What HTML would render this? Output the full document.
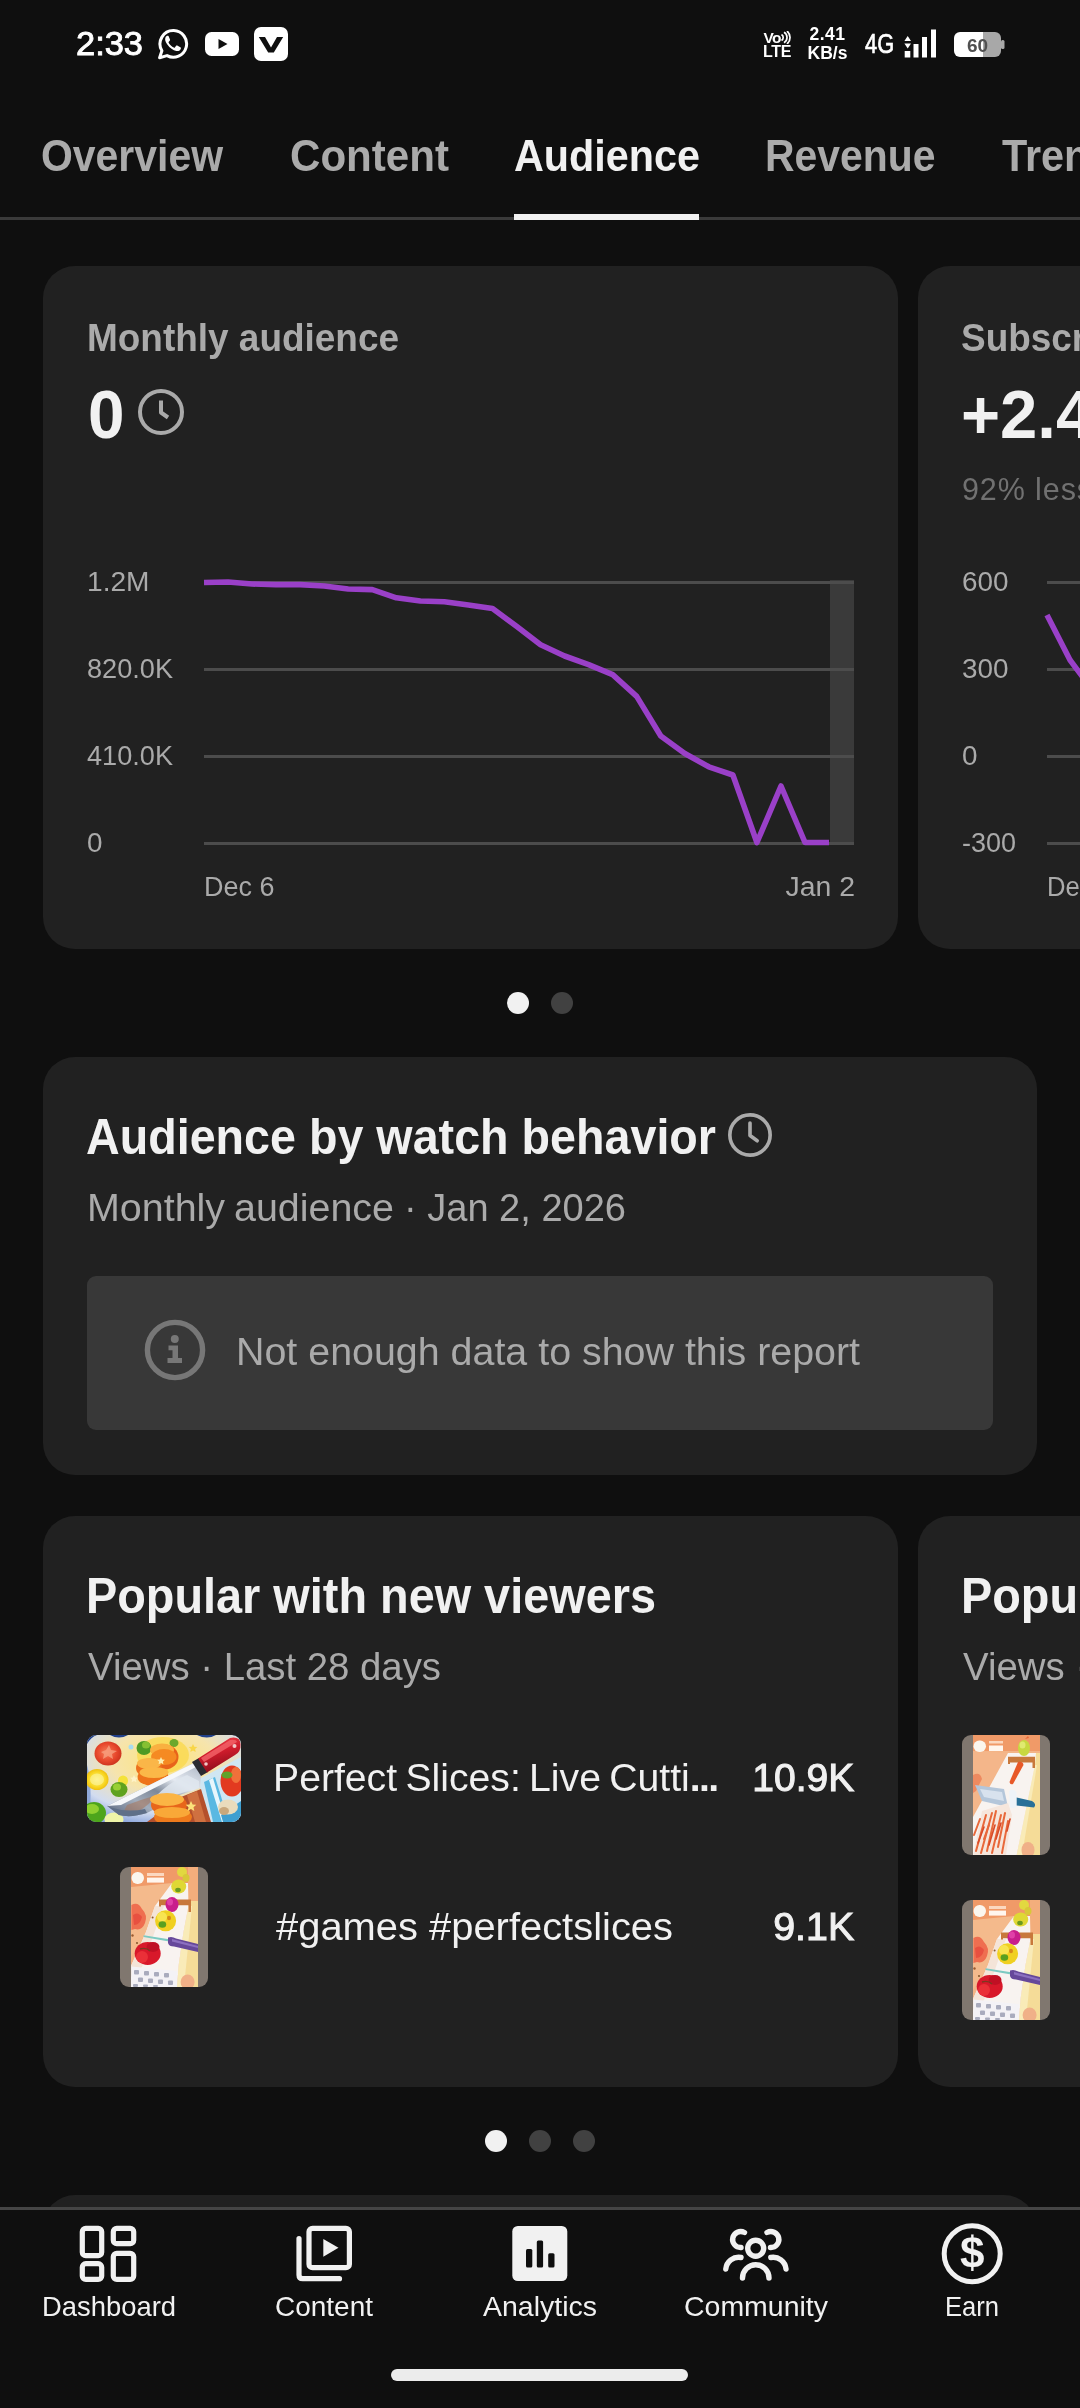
<!DOCTYPE html>
<html>
<head>
<meta charset="utf-8">
<title>Channel analytics</title>
<style>
*{margin:0;padding:0;box-sizing:border-box}
html,body{width:1080px;height:2408px;background:#0f0f0f;overflow:hidden}
body{font-family:"Liberation Sans",sans-serif;color:#fff;position:relative}
.abs{position:absolute;white-space:nowrap;line-height:1}
.card{position:absolute;background:#212121;border-radius:32px}
.tab{position:absolute;top:133.600px;font-size:44.500px;font-weight:bold;color:#aaa;white-space:nowrap;line-height:44px;transform-origin:0 50%}
.g{color:#aaa}
.axis{position:absolute;font-size:27px;color:#aaa;line-height:1;white-space:nowrap;transform-origin:0 50%}
.grid{position:absolute;height:2.500px;background:#4c4c4c}
.navl{position:absolute;top:2292px;font-size:27px;color:#fff;line-height:30px;white-space:nowrap;text-align:center;transform:translateX(-50%)}
</style>
</head>
<body>
<div id="root" style="position:absolute;left:0;top:0;width:1080px;height:2408px;overflow:hidden;will-change:transform">
<!-- STATUS BAR -->
<div id="sb">
<div class="abs" id="time" style="transform:scaleX(1.0123);transform-origin:left center;left:76.300px;top:26px;font-size:34px;line-height:34px;color:#fff;-webkit-text-stroke:0.900px #fff">2:33</div>
<!-- whatsapp -->
<svg class="abs" style="left:157px;top:28px" width="33" height="33" viewBox="0 0 33 33">
<path d="M16.8 2.6 A13.3 13.3 0 1 1 10 27.6 L2.6 29.8 L4.9 22.7 A13.3 13.3 0 0 1 16.8 2.6 Z" fill="none" stroke="#fff" stroke-width="3" stroke-linejoin="round"/>
<path transform="translate(16.3 15.9) scale(1.22) translate(-16.3 -15.9)" d="M11.6 9.2c-.5 0-1.4.5-1.8 1.600-.5 1.400-.1 3.300 1.600 5.600 2.100 2.900 4.700 4.700 7.400 5.300 1.500.3 2.900-.4 3.500-1.500.3-.6.300-1.200.1-1.400l-2.900-1.500c-.4-.2-.7-.1-.9.200l-1 1.300c-.2.300-.5.300-.9.100-1.700-.7-3.300-2.200-4.200-3.900-.2-.3-.1-.6.100-.8l.9-1.100c.2-.3.200-.6.100-.9l-1.200-2.700c-.2-.3-.4-.3-.8-.3z" fill="#fff"/>
</svg>
<!-- youtube -->
<svg class="abs" style="left:205px;top:32px" width="34" height="24" viewBox="0 0 34 24">
<rect x="0" y="0" width="34" height="24" rx="6.5" fill="#fff"/>
<path d="M13.5 7 L22.5 12 L13.5 17 Z" fill="#0f0f0f"/>
</svg>
<!-- V -->
<svg class="abs" style="left:254px;top:27px" width="34" height="34" viewBox="0 0 34 34">
<rect x="0" y="0" width="34" height="34" rx="7" fill="#fff"/>
<path d="M4.800 10 H11 L17 20.500 L23 10 H29.200 L19.800 25.500 H14.200 Z" fill="#0f0f0f"/>
</svg>
<!-- VoLTE -->
<div class="abs" style="left:763.500px;top:31px;font-size:15.500px;font-weight:bold;line-height:13px;color:#fff;letter-spacing:-0.800px">Vo</div>
<svg class="abs" style="left:780px;top:31px" width="12" height="13" viewBox="0 0 12 13"><path d="M1.5 3.500 A3.500 3.500 0 0 1 1.500 9.500 M4 1.300 A6 6 0 0 1 4 11.700 M7 0 A8.500 8.500 0 0 1 7 13" fill="none" stroke="#fff" stroke-width="1.700"/></svg>
<div class="abs" style="left:763px;top:45px;font-size:16px;font-weight:bold;line-height:13px;color:#fff;letter-spacing:-0.3px">LTE</div>
<!-- speed -->
<div class="abs" id="spd1" style="left:807px;top:26px;font-size:17.500px;font-weight:bold;line-height:16px;color:#fff;width:41px;text-align:center;letter-spacing:0.5px">2.41</div>
<div class="abs" id="spd2" style="left:806px;top:45px;font-size:17.500px;font-weight:bold;line-height:16px;color:#fff;width:43px;text-align:center">KB/s</div>
<!-- 4G -->
<div class="abs" id="fourg" style="left:865px;top:30px;font-size:28px;line-height:28px;color:#fff;-webkit-text-stroke:0.700px #fff;transform:scaleX(0.78);transform-origin:0 0">4G</div>
<!-- signal -->
<svg class="abs" style="left:904px;top:29px" width="33" height="29" viewBox="0 0 33 29">
<path d="M3.700 7 L7 12 H0.400 Z M0.400 14.500 H7 L3.700 19.500 Z" fill="#fff"/>
<rect x="0.700" y="22" width="5.600" height="6.500" fill="#fff"/>
<rect x="9.500" y="15" width="5" height="13.500" fill="#fff"/>
<rect x="18" y="8" width="5" height="20.500" fill="#fff"/>
<rect x="27" y="0.500" width="5" height="28" fill="#fff"/>
</svg>
<!-- battery -->
<svg class="abs" style="left:954px;top:32px" width="51" height="26" viewBox="0 0 51 26">
<defs><clipPath id="bc"><rect x="0" y="0" width="47" height="25" rx="6"/></clipPath></defs>
<g clip-path="url(#bc)"><rect x="0" y="0" width="29" height="25" fill="#fff"/><rect x="29" y="0" width="18" height="25" fill="#a8a8a8"/></g>
<rect x="47" y="8" width="3.500" height="9" rx="1.500" fill="#a8a8a8"/>
<text x="23.500" y="19.500" font-family="Liberation Sans" font-weight="bold" font-size="19" fill="#505050" text-anchor="middle">60</text>
</svg>
</div>
<!-- TABS -->
<div id="tabs">
<div class="tab" id="t1" style="transform:scaleX(0.9196);transform-origin:left center;left:40.5px">Overview</div>
<div class="tab" id="t2" style="transform:scaleX(0.9460);transform-origin:left center;left:289.5px">Content</div>
<div class="tab" id="t3" style="transform:scaleX(0.9286);transform-origin:left center;left:514px;color:#f1f1f1">Audience</div>
<div class="tab" id="t4" style="transform:scaleX(0.9191);transform-origin:left center;left:764.500px">Revenue</div>
<div class="tab" id="t5" style="left:1001.500px;transform:scaleX(0.93);transform-origin:left center">Trends</div>
<div class="abs" style="left:0;top:217px;width:1080px;height:3px;background:#3a3a3a"></div>
<div class="abs" style="left:514px;top:214px;width:185px;height:6px;background:#f1f1f1"></div>
</div>
<!-- CARDS -->
<div id="c1">
<div class="card" style="left:43px;top:266px;width:855px;height:683px"></div>
<div class="abs g" id="ma" style="transform:scaleX(0.9353);transform-origin:left center;left:87px;top:316.500px;font-size:39.500px;font-weight:bold;line-height:40px">Monthly audience</div>
<div class="abs" id="zero" style="transform:scaleX(0.9649);transform-origin:left center;left:87.500px;top:381.300px;font-size:68px;font-weight:bold;line-height:66px;color:#f1f1f1">0</div>
<svg class="abs" style="left:136px;top:387px" width="50" height="50" viewBox="0 0 50 50"><circle cx="25" cy="25" r="21" fill="none" stroke="#aaa" stroke-width="4"/><path d="M25 13.500 V25.500 L32 30.500" fill="none" stroke="#aaa" stroke-width="4" stroke-linecap="butt" stroke-linejoin="round"/></svg>
<div class="abs" style="left:830px;top:580px;width:24px;height:264px;background:#3a3a3a"></div>
<div class="grid" style="left:204px;top:581px;width:650px"></div>
<div class="grid" style="left:204px;top:668px;width:650px"></div>
<div class="grid" style="left:204px;top:755px;width:650px"></div>
<div class="grid" style="left:204px;top:842px;width:650px"></div>
<div class="axis" id="a1" style="transform:scaleX(1.0411);transform-origin:left center;left:87px;top:569px">1.2M</div>
<div class="axis" id="a2" style="transform:scaleX(1.0049);transform-origin:left center;left:87px;top:656px">820.0K</div>
<div class="axis" id="a3" style="transform:scaleX(1.0049);transform-origin:left center;left:87px;top:743px">410.0K</div>
<div class="axis" id="a4" style="transform:scaleX(1.0312);transform-origin:left center;left:87px;top:830px">0</div>
<div class="axis" id="a5" style="transform:scaleX(0.9993);transform-origin:left center;left:203.5px;top:873.5px">Dec 6</div>
<div class="axis" id="a6" style="transform:scaleX(1.0520);transform-origin:right center;right:224.5px;top:873.5px">Jan 2</div>
<svg class="abs" style="left:0;top:560px" width="1080" height="300" viewBox="0 560 1080 300"><polyline points="204.0,582.5 228.0,582.0 252.1,584.0 276.1,584.6 300.2,584.6 324.2,586.0 348.2,589.0 372.3,589.6 396.3,597.8 420.4,601.0 444.4,601.8 468.4,605.0 492.5,608.4 516.5,626.3 540.6,644.8 564.6,656.0 588.6,664.6 612.7,674.7 636.7,696.4 660.8,736.0 684.8,753.5 708.8,766.8 732.9,775.0 756.9,842.5 781.0,786.0 805.0,842.5 829.0,842.5" fill="none" stroke="#9a40c8" stroke-width="5.600" stroke-linejoin="round" stroke-linecap="butt"/></svg>
</div>
<div id="c2">
<div class="card" style="left:918px;top:266px;width:400px;height:683px"></div>
<div class="abs g" id="sub" style="left:961px;top:316.500px;font-size:39.500px;font-weight:bold;line-height:40px;transform:scaleX(0.9353);transform-origin:left center">Subscribers</div>
<div class="abs" id="p24" style="left:961px;top:381.300px;font-size:68px;font-weight:bold;line-height:66px;color:#f1f1f1;transform:scaleX(0.985);transform-origin:left center">+2.4K</div>
<div class="abs" id="less" style="left:962px;top:472px;font-size:30.500px;line-height:34px;color:#717171;letter-spacing:0.900px">92% less than previous 28 days</div>
<div class="grid" style="left:1047px;top:581px;width:40px"></div>
<div class="grid" style="left:1047px;top:668px;width:40px"></div>
<div class="grid" style="left:1047px;top:755px;width:40px"></div>
<div class="grid" style="left:1047px;top:842px;width:40px"></div>
<div class="axis" id="b1" style="transform:scaleX(1.0319);transform-origin:left center;left:962px;top:569px">600</div>
<div class="axis" id="b2" style="transform:scaleX(1.0319);transform-origin:left center;left:962px;top:656px">300</div>
<div class="axis" id="b3" style="transform:scaleX(1.0312);transform-origin:left center;left:962px;top:743px">0</div>
<div class="axis" id="b4" style="transform:scaleX(0.9991);transform-origin:left center;left:962px;top:830px">-300</div>
<div class="axis" id="b5" style="left:1047px;top:873.5px;transform:scaleX(0.95);transform-origin:left center">Dec 6</div>
<svg class="abs" style="left:1040px;top:560px" width="40" height="300" viewBox="1040 560 40 300"><polyline points="1047,615 1070,660 1085,680" fill="none" stroke="#9a40c8" stroke-width="5.600" stroke-linejoin="round"/></svg>
</div>
<div id="c3">
<div class="abs" style="left:507px;top:992px;width:22px;height:22px;border-radius:50%;background:#f1f1f1"></div>
<div class="abs" style="left:551px;top:992px;width:22px;height:22px;border-radius:50%;background:#414141"></div>
<div class="card" style="left:43px;top:1057px;width:993.500px;height:417.500px"></div>
<div class="abs" id="t3a" style="transform:scaleX(0.9331);transform-origin:left center;left:86px;top:1111.300px;font-size:50px;font-weight:bold;line-height:52px;color:#f1f1f1">Audience by watch behavior</div>
<svg class="abs" style="left:726px;top:1110.500px" width="48" height="48" viewBox="0 0 50 50"><circle cx="25" cy="25" r="21" fill="none" stroke="#aaa" stroke-width="3.800"/><path d="M25 12.500 V25.500 L32.500 31" fill="none" stroke="#aaa" stroke-width="3.800" stroke-linecap="round" stroke-linejoin="round"/></svg>
<div class="abs g" id="t3b" style="transform:scaleX(1.0377);transform-origin:left center;left:87px;top:1187px;font-size:38px;line-height:42px;word-spacing:-2px">Monthly audience</div>
<div class="abs g" id="t3b2" style="transform:scaleX(1.0008);transform-origin:left center;left:404px;top:1187px;font-size:38px;line-height:42px">· Jan 2, 2026</div>
<div class="abs" style="left:87px;top:1276px;width:906px;height:154px;border-radius:9px;background:#383838"></div>
<svg class="abs" style="left:143px;top:1318px" width="64" height="64" viewBox="0 0 64 64"><circle cx="32" cy="32" r="27.600" fill="none" stroke="#777" stroke-width="5.400"/><circle cx="31.800" cy="21" r="4" fill="#777"/><path d="M25.500 27.500 H35 V40 H39 V45 H24.500 V40 H29.500 V32.200 H25.500 Z" fill="#777"/></svg>
<div class="abs g" id="t3c" style="transform:scaleX(1.0365);transform-origin:left center;left:236px;top:1331px;font-size:38px;line-height:42px">Not enough data to show this report</div>
</div>
<div id="c4">
<div class="card" style="left:43px;top:1516px;width:855px;height:570.500px"></div>
<div class="abs" id="t4a" style="transform:scaleX(0.9367);transform-origin:left center;left:86px;top:1570px;font-size:50px;font-weight:bold;line-height:52px;color:#f1f1f1">Popular with new viewers</div>
<div class="abs g" id="t4b" style="transform:scaleX(1.0088);transform-origin:left center;left:88px;top:1645.500px;font-size:38px;line-height:42px">Views · Last 28 days</div>
<svg class="abs" style="left:87px;top:1735px;border-radius:9px" width="154" height="87" viewBox="0 0 154 87">
<defs>
<radialGradient id="g1bg" cx="0.5" cy="0.3" r="0.75"><stop offset="0" stop-color="#fde47c"/><stop offset="0.45" stop-color="#f6e4ac"/><stop offset="0.8" stop-color="#d2dcf0"/><stop offset="1" stop-color="#8aa4dc"/></radialGradient>
<linearGradient id="g1bl" x1="0" y1="1" x2="1" y2="0"><stop offset="0" stop-color="#56627a"/><stop offset="0.3" stop-color="#a3aebd"/><stop offset="0.5" stop-color="#7d8899"/><stop offset="0.7" stop-color="#e6ebf2"/><stop offset="1" stop-color="#aab3c2"/></linearGradient>
<linearGradient id="g1h" x1="0" y1="0" x2="0.3" y2="1"><stop offset="0" stop-color="#f04a50"/><stop offset="0.5" stop-color="#d01c2c"/><stop offset="1" stop-color="#8e0e1c"/></linearGradient>
<radialGradient id="g1t" cx="0.45" cy="0.45" r="0.6"><stop offset="0" stop-color="#f4805a"/><stop offset="0.6" stop-color="#e8482c"/><stop offset="1" stop-color="#c8301c"/></radialGradient>
<radialGradient id="g1l" cx="0.5" cy="0.5" r="0.5"><stop offset="0" stop-color="#fdf08a"/><stop offset="0.7" stop-color="#f9d926"/><stop offset="1" stop-color="#f0c010"/></radialGradient>
<linearGradient id="g1c" x1="0" y1="0" x2="0" y2="1"><stop offset="0" stop-color="#fbc050"/><stop offset="0.5" stop-color="#f58a22"/><stop offset="1" stop-color="#e45c10"/></linearGradient>
</defs>
<rect width="154" height="87" fill="url(#g1bg)"/>
<path d="M0 0 H10 Q4 2 0 9 Z M23 0 H41 Q32 5 23 0 Z M110 0 H129 Q120 5 110 0 Z M146 0 H154 V5 Q152 1 146 0 Z" fill="#1f3f8a"/>
<path d="M0 30 Q6 50 2 87 H0 Z" fill="#8fa8d8"/>
<!-- right side teal board -->
<path d="M112 44 L154 22 V87 H118 Z" fill="#cfe6f2"/>
<path d="M117 47 L128 42 L142 87 H126 Z" fill="#5ab8e2"/>
<path d="M122 45 L126 43 L139 87 H135 Z" fill="#e8f6fc"/>
<path d="M134 80 L154 66 V87 H136 Z" fill="#3f9fd0"/>
<!-- wood board bottom center -->
<path d="M94 62 L114 54 L124 87 H60 Z" fill="#b4502c"/>
<path d="M100 60 L110 56 L119 87 H108 Z" fill="#cf7040"/>
<!-- yellow glow behind carrots -->
<ellipse cx="76" cy="20" rx="26" ry="18" fill="#f9d84a" opacity="0.75"/>
<!-- tomato -->
<ellipse cx="21" cy="18.500" rx="13.500" ry="12" fill="url(#g1t)"/>
<path d="M14 17 l5 -2 3 -5 2 5 6 1 -5 3 1 5 -5 -3 -5 3 1 -5z" fill="#f7a080" opacity="0.8"/>
<!-- lemon -->
<ellipse cx="10" cy="44.500" rx="11.500" ry="10.500" fill="url(#g1l)"/>
<ellipse cx="10" cy="44.500" rx="7" ry="6" fill="#fdf6a0" opacity="0.6"/>
<!-- cucumber bottom-left -->
<ellipse cx="7" cy="78" rx="12" ry="11" fill="#4da51c"/>
<ellipse cx="5" cy="74" rx="7" ry="5" fill="#8fd030"/>
<ellipse cx="27" cy="84.500" rx="9.500" ry="7" fill="#eef4a8"/>
<!-- broccoli -->
<ellipse cx="57" cy="13" rx="7.500" ry="7" fill="#4f9a24"/><ellipse cx="59" cy="10" rx="4" ry="3.500" fill="#86c032"/>
<ellipse cx="87" cy="8" rx="4.500" ry="4" fill="#6aa82c"/>
<ellipse cx="36" cy="46" rx="5" ry="5.500" fill="#f4e23a"/>
<ellipse cx="32" cy="54.500" rx="8.500" ry="7.500" fill="#5fa21e"/><ellipse cx="30" cy="52" rx="4" ry="3.500" fill="#98cf34"/>
<!-- top carrots -->
<ellipse cx="78" cy="22" rx="13.500" ry="12.500" fill="#e8641a"/>
<ellipse cx="75" cy="15" rx="12" ry="6.500" fill="#f9b040"/>
<ellipse cx="77" cy="22" rx="12.500" ry="8" fill="#f58a22"/>
<ellipse cx="62" cy="33" rx="13" ry="9.500" fill="#ec701c"/>
<ellipse cx="62" cy="28.500" rx="12" ry="5.500" fill="#fab648"/>
<ellipse cx="66" cy="42" rx="15.500" ry="9" fill="#ee741a"/>
<ellipse cx="67" cy="37.500" rx="14.500" ry="5.500" fill="#fbb848"/>
<!-- knife blade -->
<path d="M20 71 L107 28 L114 40 L113 53 Q100 58 86 62 Q72 72 60 78 Q44 83 32 80 Z" fill="url(#g1bl)"/>
<path d="M20 71 L107 28 L109 32 L34 70 Z" fill="#f6f8fb"/>
<path d="M70 60 Q84 46 100 40 L112 46 L112 53 Q96 57 84 62 Z" fill="#dfe6ee" opacity="0.85"/>
<path d="M40 70 Q56 64 70 60 Q62 70 52 76 Q44 80 36 78 Z" fill="#a8745a" opacity="0.55"/>
<path d="M22 72 Q40 78 58 74 L60 78 Q44 83 32 80 Z" fill="#5f6f88"/>
<!-- bolster + handle -->
<path d="M105 27 L112 23 L121 37 L114 41 Z" fill="#2a2a30"/>
<path d="M111 23.500 L143 3 Q153 1 153.500 9 Q154 17 148 20 L120 37.500 Z" fill="url(#g1h)"/>
<path d="M114 23 L143 5 Q149 4 150 7 L117 27 Z" fill="#f4646a" opacity="0.8"/>
<circle cx="147.500" cy="11" r="2" fill="#f0c8c8"/><circle cx="119" cy="29" r="1.800" fill="#f0c8c8"/>
<!-- bottom carrots -->
<ellipse cx="82" cy="70" rx="18" ry="11" fill="#e8661a"/>
<ellipse cx="80" cy="64.500" rx="17" ry="6.500" fill="#fbb444"/>
<ellipse cx="86" cy="82" rx="19" ry="9" fill="#ee7a1c"/>
<ellipse cx="85" cy="77.500" rx="18" ry="5.500" fill="#f9a838"/>
<!-- red pepper -->
<ellipse cx="145" cy="46" rx="11.500" ry="15.500" fill="#e23a20"/>
<ellipse cx="149" cy="40" rx="5" ry="8" fill="#f0703a"/>
<ellipse cx="140" cy="40" rx="5.500" ry="3.500" fill="#5fa22a"/>
<!-- mushroom -->
<ellipse cx="141" cy="72" rx="10" ry="7.500" fill="#eadcbc"/><ellipse cx="137" cy="76" rx="5" ry="4" fill="#c9a87c"/>
<!-- stars -->
<path d="M104 66 l1.600 3.400 3.700 .4 -2.800 2.500 .8 3.700 -3.300 -1.900 -3.300 1.900 .8 -3.700 -2.800 -2.500 3.700 -.4z" fill="#fbe27a"/>
<path d="M106 9 l1.300 2.700 3 .3 -2.200 2 .6 3 -2.700 -1.500 -2.700 1.500 .6 -3 -2.200 -2 3 -.3z" fill="#f8d648"/>
<path d="M74 22 l1.200 2.500 2.700 .3 -2 1.800 .5 2.700 -2.400 -1.400 -2.400 1.400 .5 -2.700 -2 -1.800 2.700 -.3z" fill="#fdeeb0"/>
<path d="M47 40 l1.200 2.500 2.700 .3 -2 1.800 .5 2.700 -2.400 -1.400 -2.400 1.400 .5 -2.700 -2 -1.800 2.700 -.3z" fill="#fdf2c8"/>
<circle cx="44" cy="12" r="2.500" fill="#a8dcf0"/>
</svg>
<div class="abs" id="r1" style="transform:scaleX(1.0308);transform-origin:left center;left:272.500px;top:1757px;font-size:38px;line-height:42px;color:#f1f1f1;word-spacing:-2.500px">Perfect Slices: Live Cutti<span style="font-weight:bold;letter-spacing:-1.600px">...</span></div>
<div class="abs" id="v1" style="transform:scaleX(1.0271);transform-origin:right center;right:226px;top:1757px;font-size:38px;font-weight:normal;-webkit-text-stroke:1px #f1f1f1;line-height:42px;color:#f1f1f1">10.9K</div>
<svg class="abs" style="left:120px;top:1867px;border-radius:9px" width="88" height="120" viewBox="0 0 88 120">
<rect width="88" height="120" fill="#80776f"/>
<rect x="11" y="0" width="67" height="120" fill="#f3b487"/>
<rect x="11" y="0" width="67" height="20" fill="#f09a68"/>
<path d="M11 20 L52 16 L30 60 L11 90 Z" fill="#f4ba8c"/>
<!-- right cream band -->
<path d="M68 16 L78 16 V120 H57 L58.700 98 L63.500 65 L68.500 39 Z" fill="#f5dc98"/>
<path d="M68.500 39 L72 39 L64 120 H57 L58.700 98 L63.500 65 Z" fill="#f9ebb8"/>
<path d="M68 0 H78 V34 H68 Z" fill="#f3ae7c"/>
<!-- belt -->
<path d="M52 16 L68 16 L68.500 39 L63.500 65 L58.700 98 L57 120 H11 V99 L26 65 L35 39 Z" fill="#f8f3f0"/>
<path d="M35 39 L44 39 L22 100 L11 110 V99 L26 65 Z" fill="#f4e4d8"/>
<!-- left red blobs -->
<path d="M11.400 38 Q18 34 22 42 Q28 48 25 56 Q22 64 15 62 L11.400 63 Z" fill="#ef6e50"/>
<path d="M13 48 Q18 44 22 50 Q20 58 14 58 Z" fill="#e85040"/>
<!-- header -->
<rect x="11.500" y="5" width="12.500" height="12" rx="6" fill="#fbf6ee"/>
<rect x="27" y="6" width="17" height="3" fill="#fbd8c0"/><rect x="27" y="10.600" width="17" height="5" fill="#fff6ee"/>
<!-- small balls -->
<ellipse cx="62" cy="5" rx="5" ry="5" fill="#e2d840"/><ellipse cx="66" cy="11" rx="3.500" ry="4" fill="#d8c838"/>
<ellipse cx="58.700" cy="19.500" rx="7.500" ry="7" fill="#dfd835"/><ellipse cx="58" cy="23" rx="2.800" ry="2.200" fill="#6a9a20"/>
<!-- gate -->
<path d="M39 32.600 H71 V45 H68.500 V38.300 H41 V39.500 H39 Z" fill="#c8783c"/>
<!-- onion -->
<ellipse cx="52" cy="37.500" rx="6.500" ry="7.500" fill="#c81e8c"/><ellipse cx="50" cy="35" rx="3" ry="3.500" fill="#e040a8"/>
<!-- yellow pepper -->
<ellipse cx="45.600" cy="53.800" rx="10.500" ry="10.500" fill="#f0d020"/>
<ellipse cx="42" cy="50" rx="5" ry="5" fill="#f8e450"/>
<ellipse cx="42.400" cy="57.500" rx="3.800" ry="3.200" fill="#58a020"/><ellipse cx="49" cy="51" rx="2" ry="2.200" fill="#d88818"/>
<!-- knife -->
<path d="M23.600 68.200 L49 72.200 L49 74.500 L23.600 70 Z" fill="#7ccac2"/>
<path d="M48 70.500 Q52 69 56 71.500 L78 77 V85 L54 79.500 Q49 79.500 48 76 Z" fill="#66489a"/>
<path d="M52 72 L78 79 V81 L52 74.500 Z" fill="#8c70c0"/>
<!-- red pepper -->
<ellipse cx="27.700" cy="86.400" rx="13" ry="11.500" fill="#d8182a"/>
<ellipse cx="33" cy="80" rx="6.500" ry="5" fill="#c01024"/><ellipse cx="22" cy="90" rx="6" ry="6" fill="#ea3038"/>
<path d="M20 82 Q26 80 30 84" stroke="#7a3a20" stroke-width="1.400" fill="none"/>
<!-- keys -->
<path d="M11.400 99.500 L57 104 V120 H11.400 Z" fill="#f4f2f6"/>
<g fill="#a9abbd"><rect x="14" y="103" width="5" height="4.500" rx="1"/><rect x="24" y="104" width="5" height="4.500" rx="1"/><rect x="34" y="105" width="5" height="4.500" rx="1"/><rect x="44" y="106" width="5" height="4.500" rx="1"/><rect x="18" y="110.500" width="5" height="4.500" rx="1"/><rect x="28" y="111.500" width="5" height="4.500" rx="1"/><rect x="38" y="112.500" width="5" height="4.500" rx="1"/><rect x="48" y="113.500" width="5" height="4.500" rx="1"/><rect x="13" y="117" width="5" height="3" rx="1"/><rect x="23" y="117.500" width="5" height="2.500" rx="1"/><rect x="33" y="118" width="5" height="2" rx="1"/></g>
<ellipse cx="67.600" cy="115" rx="7" ry="7.500" fill="#f0b088"/>
<circle cx="32.600" cy="50.500" r="1" fill="#8a5a30"/><circle cx="17" cy="76" r="1.100" fill="#8a5a30"/><circle cx="12.500" cy="68.500" r="1.200" fill="#9a5a30"/>
</svg>
<div class="abs" id="r2" style="transform:scaleX(1.0500);transform-origin:left center;left:276px;top:1905.500px;font-size:38px;line-height:42px;color:#f1f1f1">#games #perfectslices</div>
<div class="abs" id="v2" style="transform:scaleX(1.0362);transform-origin:right center;right:226px;top:1905.500px;font-size:38px;font-weight:normal;-webkit-text-stroke:1px #f1f1f1;line-height:42px;color:#f1f1f1">9.1K</div>
<div class="abs" style="left:485px;top:2130px;width:22px;height:22px;border-radius:50%;background:#f1f1f1"></div>
<div class="abs" style="left:529px;top:2130px;width:22px;height:22px;border-radius:50%;background:#414141"></div>
<div class="abs" style="left:573px;top:2130px;width:22px;height:22px;border-radius:50%;background:#414141"></div>
</div>
<div id="c5">
<div class="card" style="left:918px;top:1516px;width:400px;height:570.500px"></div>
<div class="abs" id="t5a" style="left:961px;top:1570px;font-size:50px;font-weight:bold;line-height:52px;color:#f1f1f1;transform:scaleX(0.9368);transform-origin:left center">Popular with returning viewers</div>
<div class="abs g" id="t5b" style="left:963px;top:1645.500px;font-size:38px;line-height:42px;transform:scaleX(1.0088);transform-origin:left center">Views · Last 28 days</div>
<svg class="abs" style="left:962px;top:1735px;border-radius:9px" width="88" height="120" viewBox="0 0 88 120">
<rect width="88" height="120" fill="#80776f"/>
<rect x="11" y="0" width="67" height="120" fill="#f3b487"/>
<rect x="11" y="0" width="67" height="16" fill="#f09a68"/>
<path d="M11 16 L46 18 L11 80 Z" fill="#f4b68a"/>
<path d="M11 40 Q18 36 20 44 L14 56 L11 58 Z" fill="#ee8a60"/>
<!-- right band -->
<path d="M74 18 L78 18 V120 H54.700 Z" fill="#f5dc98"/>
<path d="M73 30 L75 30 L60 120 H54.700 Z" fill="#f9ebb8"/>
<!-- belt -->
<path d="M46 18 L74 18 L73 30 L54.700 120 H11 V82 Z" fill="#f8f3f0"/>
<!-- header -->
<rect x="11.500" y="5.500" width="12.500" height="11.500" rx="5.700" fill="#fbf6ee"/>
<rect x="27" y="6" width="14" height="2.500" fill="#fbd8c0"/><rect x="27" y="10.500" width="14" height="5.500" fill="#fff6ee"/>
<!-- pear -->
<ellipse cx="62" cy="13" rx="6" ry="8" fill="#c8d840"/><ellipse cx="60.500" cy="10" rx="3" ry="3.500" fill="#e0ea70"/>
<path d="M63 4 L66 1 L67 3 Z" fill="#e86838"/>
<!-- gate -->
<path d="M46 21.700 H73 V33 H70.500 V27.500 H48 V29 H46 Z" fill="#c8783c"/>
<!-- carrot -->
<path d="M56 27 Q61 26 61.500 30 L51 49 Q48 50 47.500 47 Z" fill="#e85828"/>
<!-- grater -->
<path d="M13 50 L42 54 L46 72 L20 66 Z" fill="#b4c6da"/>
<path d="M18 54 L40 57 L42 66 L22 62 Z" fill="#d8e2ee"/>
<path d="M47 56 Q51 53 54.500 57 L55 71 Q51 75 48 72 Z" fill="#eef3f8"/>
<path d="M54.700 62.500 L70 66 Q75 69 72 72.500 L54.700 70.500 Z" fill="#287098"/>
<!-- shreds -->
<path d="M11.300 120 L20 76 L46 68 L50 80 L44 120 Z" fill="#f6e6dc"/>
<g stroke="#e8683a" stroke-width="2" fill="none" stroke-linecap="round"><path d="M14 116 L24 80"/><path d="M19 118 L30 78"/><path d="M25 116 L34 76"/><path d="M30 118 L39 80"/><path d="M36 112 L43 78"/><path d="M40 118 L46 86"/><path d="M12 100 L18 84"/><path d="M22 104 L27 90"/></g>
<g stroke="#d84a28" stroke-width="1.600" fill="none" stroke-linecap="round"><path d="M16 108 L22 92"/><path d="M27 110 L33 90"/><path d="M34 104 L39 88"/><path d="M45 96 L48 84"/></g>
<ellipse cx="66" cy="115" rx="6.500" ry="8" fill="#f0b088"/>
</svg>
<svg class="abs" style="left:962px;top:1900px;border-radius:9px" width="88" height="120" viewBox="0 0 88 120">
<rect width="88" height="120" fill="#80776f"/>
<rect x="11" y="0" width="67" height="120" fill="#f3b487"/>
<rect x="11" y="0" width="67" height="20" fill="#f09a68"/>
<path d="M11 20 L52 16 L30 60 L11 90 Z" fill="#f4ba8c"/>
<!-- right cream band -->
<path d="M68 16 L78 16 V120 H57 L58.700 98 L63.500 65 L68.500 39 Z" fill="#f5dc98"/>
<path d="M68.500 39 L72 39 L64 120 H57 L58.700 98 L63.500 65 Z" fill="#f9ebb8"/>
<path d="M68 0 H78 V34 H68 Z" fill="#f3ae7c"/>
<!-- belt -->
<path d="M52 16 L68 16 L68.500 39 L63.500 65 L58.700 98 L57 120 H11 V99 L26 65 L35 39 Z" fill="#f8f3f0"/>
<path d="M35 39 L44 39 L22 100 L11 110 V99 L26 65 Z" fill="#f4e4d8"/>
<!-- left red blobs -->
<path d="M11.400 38 Q18 34 22 42 Q28 48 25 56 Q22 64 15 62 L11.400 63 Z" fill="#ef6e50"/>
<path d="M13 48 Q18 44 22 50 Q20 58 14 58 Z" fill="#e85040"/>
<!-- header -->
<rect x="11.500" y="5" width="12.500" height="12" rx="6" fill="#fbf6ee"/>
<rect x="27" y="6" width="17" height="3" fill="#fbd8c0"/><rect x="27" y="10.600" width="17" height="5" fill="#fff6ee"/>
<!-- small balls -->
<ellipse cx="62" cy="5" rx="5" ry="5" fill="#e2d840"/><ellipse cx="66" cy="11" rx="3.500" ry="4" fill="#d8c838"/>
<ellipse cx="58.700" cy="19.500" rx="7.500" ry="7" fill="#dfd835"/><ellipse cx="58" cy="23" rx="2.800" ry="2.200" fill="#6a9a20"/>
<!-- gate -->
<path d="M39 32.600 H71 V45 H68.500 V38.300 H41 V39.500 H39 Z" fill="#c8783c"/>
<!-- onion -->
<ellipse cx="52" cy="37.500" rx="6.500" ry="7.500" fill="#c81e8c"/><ellipse cx="50" cy="35" rx="3" ry="3.500" fill="#e040a8"/>
<!-- yellow pepper -->
<ellipse cx="45.600" cy="53.800" rx="10.500" ry="10.500" fill="#f0d020"/>
<ellipse cx="42" cy="50" rx="5" ry="5" fill="#f8e450"/>
<ellipse cx="42.400" cy="57.500" rx="3.800" ry="3.200" fill="#58a020"/><ellipse cx="49" cy="51" rx="2" ry="2.200" fill="#d88818"/>
<!-- knife -->
<path d="M23.600 68.200 L49 72.200 L49 74.500 L23.600 70 Z" fill="#7ccac2"/>
<path d="M48 70.500 Q52 69 56 71.500 L78 77 V85 L54 79.500 Q49 79.500 48 76 Z" fill="#66489a"/>
<path d="M52 72 L78 79 V81 L52 74.500 Z" fill="#8c70c0"/>
<!-- red pepper -->
<ellipse cx="27.700" cy="86.400" rx="13" ry="11.500" fill="#d8182a"/>
<ellipse cx="33" cy="80" rx="6.500" ry="5" fill="#c01024"/><ellipse cx="22" cy="90" rx="6" ry="6" fill="#ea3038"/>
<path d="M20 82 Q26 80 30 84" stroke="#7a3a20" stroke-width="1.400" fill="none"/>
<!-- keys -->
<path d="M11.400 99.500 L57 104 V120 H11.400 Z" fill="#f4f2f6"/>
<g fill="#a9abbd"><rect x="14" y="103" width="5" height="4.500" rx="1"/><rect x="24" y="104" width="5" height="4.500" rx="1"/><rect x="34" y="105" width="5" height="4.500" rx="1"/><rect x="44" y="106" width="5" height="4.500" rx="1"/><rect x="18" y="110.500" width="5" height="4.500" rx="1"/><rect x="28" y="111.500" width="5" height="4.500" rx="1"/><rect x="38" y="112.500" width="5" height="4.500" rx="1"/><rect x="48" y="113.500" width="5" height="4.500" rx="1"/><rect x="13" y="117" width="5" height="3" rx="1"/><rect x="23" y="117.500" width="5" height="2.500" rx="1"/><rect x="33" y="118" width="5" height="2" rx="1"/></g>
<ellipse cx="67.600" cy="115" rx="7" ry="7.500" fill="#f0b088"/>
<circle cx="32.600" cy="50.500" r="1" fill="#8a5a30"/><circle cx="17" cy="76" r="1.100" fill="#8a5a30"/><circle cx="12.500" cy="68.500" r="1.200" fill="#9a5a30"/>
</svg>
<div class="card" style="left:43px;top:2195px;width:993px;height:300px"></div>
</div>
<!-- NAV -->
<div id="nav">
<div class="abs" style="left:0;top:2207px;width:1080px;height:201px;background:#0f0f0f"></div>
<div class="abs" style="left:0;top:2207px;width:1080px;height:3px;background:#454545"></div>
<!-- dashboard -->
<svg class="abs" style="left:78px;top:2224px" width="60" height="60" viewBox="78 2224 60 60" fill="none" stroke="#f1f1f1" stroke-width="5.200">
<rect x="82.300" y="2228.300" width="19.400" height="27.400" rx="3.500"/>
<rect x="113.300" y="2228.300" width="20.400" height="15.400" rx="3.500"/>
<rect x="82.300" y="2263.700" width="19.400" height="15.700" rx="3.500"/>
<rect x="113.300" y="2253.300" width="20.400" height="26.100" rx="3.500"/>
</svg>
<div class="abs" id="n1" style="transform:scaleX(0.9959);transform-origin:left center;left:42px;top:2292px;font-size:27.500px;line-height:30px;color:#f1f1f1">Dashboard</div>
<!-- content -->
<svg class="abs" style="left:294px;top:2224px" width="60" height="60" viewBox="294 2224 60 60" fill="none" stroke="#f1f1f1" stroke-width="5.200">
<rect x="309" y="2228.300" width="40.400" height="39.400" rx="3.500"/>
<path d="M299 2238.500 V2275 Q299 2278.700 302.700 2278.700 H339.500" stroke-linecap="round"/>
<path d="M323.300 2239 L338.500 2247.800 L323.300 2256.700 Z" fill="#f1f1f1" stroke="none"/>
</svg>
<div class="abs" id="n2" style="transform:scaleX(1.0174);transform-origin:left center;left:275px;top:2292px;font-size:27.500px;line-height:30px;color:#f1f1f1">Content</div>
<!-- analytics -->
<svg class="abs" style="left:510px;top:2224px" width="60" height="60" viewBox="510 2224 60 60">
<rect x="512.300" y="2226" width="55" height="55" rx="5.500" fill="#f1f1f1"/>
<rect x="526" y="2249" width="6.300" height="18.500" rx="1.500" fill="#0f0f0f"/>
<rect x="536.800" y="2240.500" width="6.300" height="27" rx="1.500" fill="#0f0f0f"/>
<rect x="548.200" y="2253.300" width="6.300" height="14.200" rx="1.500" fill="#0f0f0f"/>
</svg>
<div class="abs" id="n3" style="transform:scaleX(1.0359);transform-origin:left center;left:483px;top:2292px;font-size:27.500px;line-height:30px;color:#f1f1f1">Analytics</div>
<!-- community -->
<svg class="abs" style="left:720px;top:2224px" width="72" height="60" viewBox="720 2224 72 60" fill="none" stroke="#f1f1f1" stroke-width="5.400" stroke-linecap="round">
<circle cx="755.700" cy="2248.300" r="8"/>
<path d="M742.500 2278 A13.200 13.200 0 0 1 769 2278"/>
<path d="M741 2247.500 A8 8 0 1 1 744.500 2232.500"/>
<path d="M770.500 2247.500 A8 8 0 1 0 767 2232.500"/>
<path d="M725.800 2269 A13 13 0 0 1 741 2257.500"/>
<path d="M786 2269 A13 13 0 0 0 770.800 2257.500"/>
</svg>
<div class="abs" id="n4" style="transform:scaleX(1.0355);transform-origin:left center;left:684px;top:2292px;font-size:27.500px;line-height:30px;color:#f1f1f1">Community</div>
<!-- earn -->
<svg class="abs" style="left:940px;top:2222px" width="64" height="64" viewBox="940 2222 64 64">
<circle cx="972.200" cy="2253.800" r="28" fill="none" stroke="#f1f1f1" stroke-width="5"/>
<text x="972.200" y="2268.300" font-family="Liberation Sans" font-weight="bold" font-size="44" fill="#f1f1f1" text-anchor="middle">$</text>
</svg>
<div class="abs" id="n5" style="transform:scaleX(0.9295);transform-origin:left center;left:945px;top:2292px;font-size:27.500px;line-height:30px;color:#f1f1f1">Earn</div>
<div class="abs" style="left:391px;top:2369px;width:297px;height:12px;border-radius:6px;background:#ececec"></div>
</div>
</div>
</body>
</html>
